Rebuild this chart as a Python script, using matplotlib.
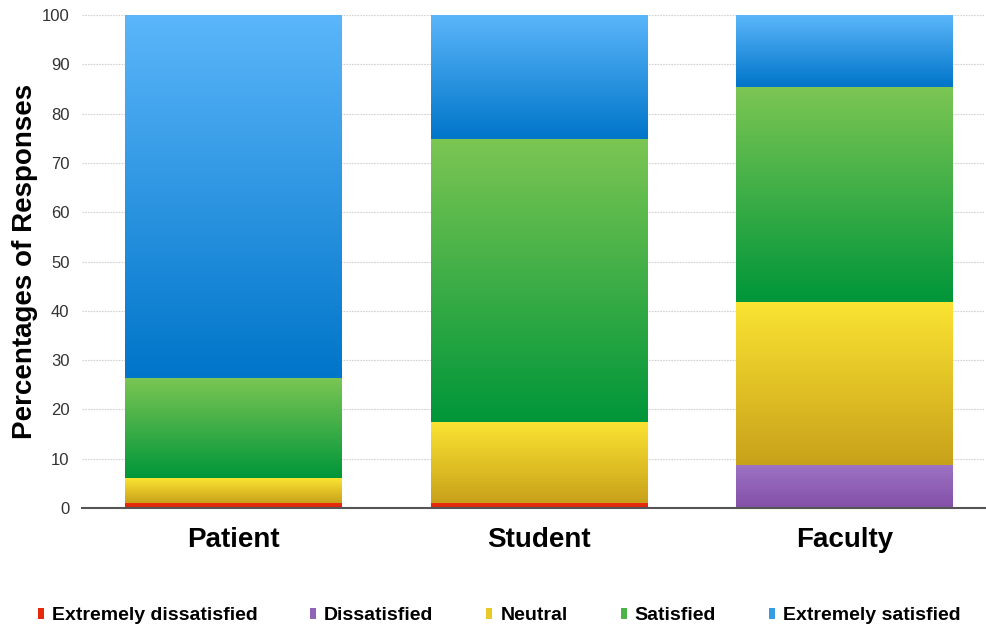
# 만족도 조사: 응답자 그룹별 응답 비율 (누적 막대, 그라데이션 채움)
import numpy as np
import matplotlib.pyplot as plt
from matplotlib.colors import LinearSegmentedColormap

plt.rcParams["font.family"] = ["Liberation Sans", "DejaVu Sans"]

# --- 데이터 (그림에서 읽은 값, %) ---
categories = ["Patient", "Student", "Faculty"]
series_names = ["Extremely dissatisfied", "Dissatisfied", "Neutral",
                "Satisfied", "Extremely satisfied"]
extremely_dissatisfied = [1.1, 1.0, 0.0]
dissatisfied = [0.0, 0.0, 8.7]
neutral = [4.9, 16.5, 33.1]
satisfied = [20.4, 57.3, 43.6]
extremely_satisfied = [73.6, 25.2, 14.6]
series_values = [extremely_dissatisfied, dissatisfied, neutral,
                 satisfied, extremely_satisfied]

# 각 시리즈의 (아래색, 위색) 그라데이션
gradients = [("#d8250a", "#ee2d0d"),
             ("#8450a8", "#9c72c3"),
             ("#c8a11a", "#fbe432"),
             ("#00963a", "#7cc653"),
             ("#0075c9", "#5bb6fa")]

fig = plt.figure(figsize=(9.87, 6.31), dpi=100)
ax = fig.add_axes([82 / 987, 1 - 508 / 631, 903 / 987, 493 / 631])

x = np.arange(len(categories))
bottom = np.zeros(len(categories))
grad = np.linspace(0, 1, 256).reshape(-1, 1)
for name, vals, (c_bot, c_top) in zip(series_names, series_values, gradients):
    cmap = LinearSegmentedColormap.from_list(name, [c_bot, c_top])
    bars = ax.bar(x, vals, 0.71, bottom=bottom, color=cmap(0.6), label=name,
                  zorder=2, linewidth=0)
    # 막대 위에 세로 그라데이션 이미지를 덮는다
    for b in bars:
        if b.get_height() <= 0:
            continue
        ax.imshow(grad, cmap=cmap, origin="lower", aspect="auto",
                  interpolation="bilinear", zorder=3,
                  extent=(b.get_x(), b.get_x() + b.get_width(),
                          b.get_y(), b.get_y() + b.get_height()))
    bottom += np.array(vals)

ax.set_xlim(-0.497, 2.46)
ax.set_ylim(0, 100)
ax.set_yticks(range(0, 101, 10))
ax.set_xticks(x)
ax.set_xticklabels(categories, fontsize=20, fontweight="bold")
ax.tick_params(axis="x", length=0, pad=14)
ax.tick_params(axis="y", length=0, pad=9, labelsize=12, labelcolor="#333333")

ax.grid(axis="y", color="#d2d2d2", linestyle=(0, (1.5, 1)), linewidth=0.8, zorder=0)
ax.set_axisbelow(True)
for side in ["left", "right", "top"]:
    ax.spines[side].set_visible(False)
ax.spines["bottom"].set_color("#555555")
ax.spines["bottom"].set_linewidth(1.5)
ax.spines["bottom"].set_zorder(5)

ax.set_ylabel("Percentages of Responses", fontsize=20, fontweight="bold")
ax.yaxis.set_label_coords(-0.049, 0.5)

fig.legend(loc="center", bbox_to_anchor=(0.5056, 0.024), ncol=5, frameon=False,
           prop={"weight": "bold", "size": 14},
           handlelength=0.31, handleheight=0.55, handletextpad=0.41,
           columnspacing=2.72, borderpad=0)

plt.savefig("out.png", dpi=100)
